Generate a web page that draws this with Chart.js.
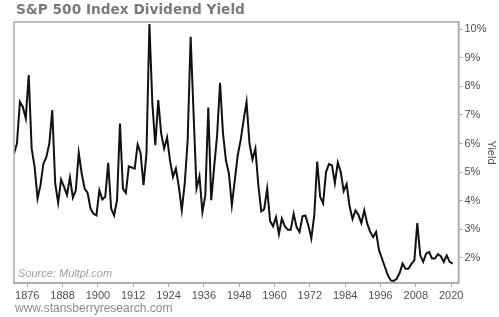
<!DOCTYPE html>
<html>
<head>
<meta charset="utf-8">
<script src="https://cdn.jsdelivr.net/npm/chart.js@4/dist/chart.umd.min.js"></script>
<style>
  html, body { margin: 0; padding: 0; background: #fff; }
  #wrap { position: relative; width: 499px; height: 317px; overflow: hidden; }
  #c { position: absolute; left: 0; top: 0; }
  .txt { position: absolute; white-space: nowrap; }
  #title { left: 16px; top: 1px; font: bold 13.7px "DejaVu Sans", Verdana, sans-serif; color: #7a7a7a; }
  #source { left: 18px; top: 267px; font: italic 11px "Liberation Sans", Arial, sans-serif; color: #a0a0a0; }
  #footer { left: 15px; top: 301px; font: 12px "Liberation Sans", Arial, sans-serif; color: #8a8a8a; }
</style>
</head>
<body>
<div id="wrap">
  <canvas id="c" width="499" height="317"></canvas>
  <div id="title" class="txt">S&amp;P 500 Index Dividend Yield</div>
  <div id="source" class="txt">Source: Multpl.com</div>
  <div id="footer" class="txt">www.stansberryresearch.com</div>
</div>
<script>
const firstYear = 1871;
const yields = [
  5.65, 6.0, 7.46, 7.28, 6.88, 8.4, 5.82, 5.18, 4.07, 4.54,
  5.3, 5.53, 6.0, 7.17, 4.6, 3.92, 4.74, 4.48, 4.19, 4.81,
  4.1, 4.36, 5.67, 4.95, 4.42, 4.27, 3.72, 3.54, 3.48, 4.36,
  4.04, 4.13, 5.32, 3.72, 3.48, 4.01, 6.7, 4.42, 4.27, 5.2,
  5.16, 5.12, 5.97, 5.67, 4.54, 5.65, 10.19, 7.4, 5.94, 7.52,
  6.35, 5.82, 6.21, 5.41, 4.83, 5.12, 4.48, 3.66, 4.6, 6.12,
  9.74, 7.05, 4.42, 4.85, 3.6, 4.19, 7.26, 4.01, 5.18, 6.29,
  8.13, 6.35, 5.41, 4.95, 3.84, 4.71, 5.59, 6.12, 6.82, 7.46,
  6.0, 5.44, 5.82, 4.54, 3.62, 3.7, 4.42, 3.28, 3.1, 3.42,
  2.82, 3.37, 3.1, 2.98, 2.98, 3.54, 3.07, 2.9, 3.45, 3.48,
  3.13, 2.67, 3.48, 5.37, 4.13, 3.9, 5.0, 5.28, 5.24, 4.61,
  5.33, 5.0, 4.33, 4.58, 3.8, 3.35, 3.65, 3.5, 3.21, 3.66,
  3.19, 2.9, 2.72, 2.9, 2.26, 1.97, 1.67, 1.38, 1.2, 1.18,
  1.26, 1.46, 1.79, 1.61, 1.61, 1.78, 1.9, 3.21, 2.08, 1.85,
  2.14, 2.2, 1.97, 1.97, 2.12, 2.05, 1.85, 2.08, 1.85, 1.79
];
const years = yields.map((_, i) => firstYear + i);
const xTickYears = [1876, 1888, 1900, 1912, 1924, 1936, 1948, 1960, 1972, 1984, 1996, 2008, 2020];
const yTickValues = [2, 3, 4, 5, 6, 7, 8, 9, 10];

// annual readings plotted at mid-year
const points = years.map((yr, i) => ({ x: yr + 0.5, y: yields[i] }));

const frame = {
  id: 'frame',
  afterDatasetsDraw(chart) {
    const a = chart.chartArea, ctx = chart.ctx;
    ctx.save();
    ctx.strokeStyle = '#a8a8a8';
    ctx.lineWidth = 1.5;
    ctx.strokeRect(a.left, a.top, a.right - a.left, a.bottom - a.top);
    ctx.restore();
  }
};

new Chart(document.getElementById('c'), {
  type: 'line',
  data: {
    datasets: [{
      data: points,
      borderColor: '#111',
      borderWidth: 2,
      pointRadius: 0,
      tension: 0,
      fill: false
    }]
  },
  options: {
    responsive: false,
    animation: false,
    layout: { padding: { left: 14, top: 22, right: 0, bottom: 0 } },
    plugins: { legend: { display: false }, tooltip: { enabled: false }, title: { display: false } },
    scales: {
      x: {
        type: 'linear',
        position: 'bottom',
        min: firstYear + 0.5,
        max: 2022.5,
        afterBuildTicks: s => { s.ticks = xTickYears.map(v => ({ value: v })); },
        afterFit: s => { s.height = 34; },
        grid: { drawOnChartArea: false, drawTicks: true, tickLength: 4, color: '#a8a8a8', lineWidth: 1 },
        border: { display: true, color: '#a8a8a8', width: 1.5 },
        ticks: {
          color: '#505050', font: { family: 'Liberation Sans', size: 11 },
          padding: 2, maxRotation: 0, autoSkip: false,
          callback: v => String(v)
        }
      },
      y: {
        type: 'linear',
        position: 'right',
        min: 1.11,
        max: 10.26,
        afterBuildTicks: s => { s.ticks = yTickValues.map(v => ({ value: v })); },
        afterFit: s => { s.width = 40.5; },
        grid: { drawOnChartArea: false, drawTicks: true, tickLength: 4, color: '#a8a8a8', lineWidth: 1 },
        border: { display: true, color: '#a8a8a8', width: 1.5 },
        ticks: {
          color: '#505050', font: { family: 'Liberation Sans', size: 11 },
          padding: 2, callback: v => v + '%'
        },
        title: {
          display: true, text: 'Yield', color: '#505050',
          font: { family: 'Liberation Sans', size: 11 },
          padding: { top: 1, bottom: 0 }
        }
      }
    }
  },
  plugins: [frame]
});
</script>
</body>
</html>
